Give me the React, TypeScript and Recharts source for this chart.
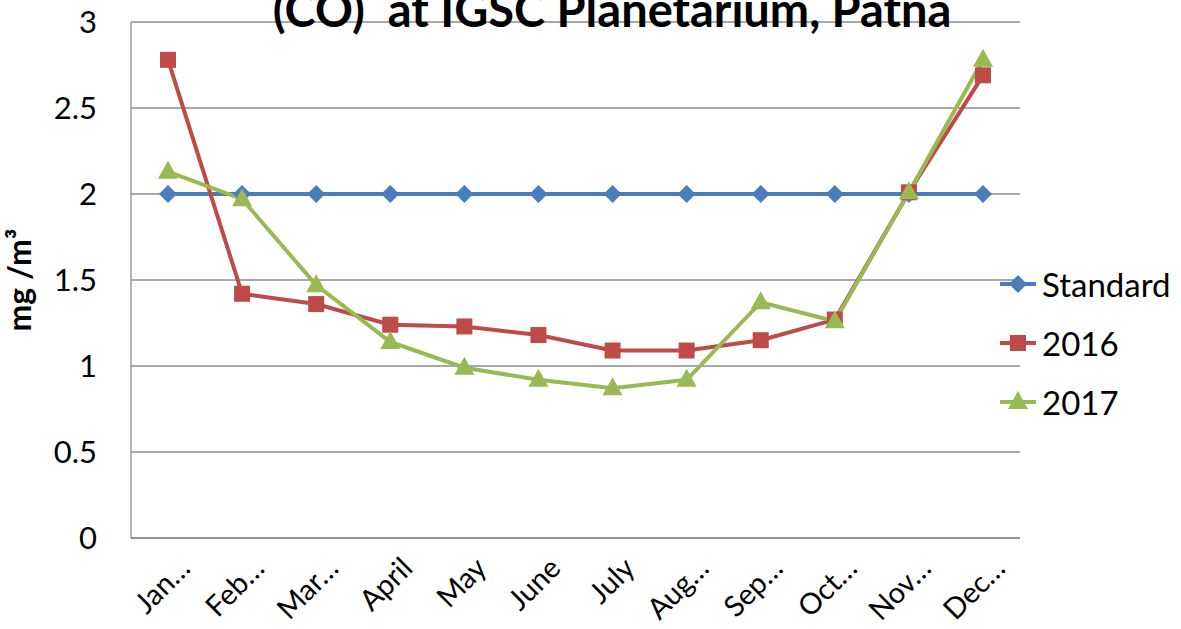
import React from "react";
import { LineChart, Line, XAxis, YAxis, CartesianGrid, Legend, Label } from "recharts";

const months = ["Jan…", "Feb…", "Mar…", "April", "May", "June", "July", "Aug…", "Sep…", "Oct…", "Nov…", "Dec…"];
const standard = [2, 2, 2, 2, 2, 2, 2, 2, 2, 2, 2, 2];
const y2016 = [2.78, 1.42, 1.36, 1.24, 1.23, 1.18, 1.09, 1.09, 1.15, 1.27, 2.01, 2.69];
const y2017 = [2.13, 1.97, 1.47, 1.14, 0.99, 0.92, 0.87, 0.92, 1.37, 1.26, 2.01, 2.78];
const yTicks = [0, 0.5, 1, 1.5, 2, 2.5, 3];

const seriesInfo = [
  { key: "standard", name: "Standard", color: "#4A7EBB", shape: "diamond" },
  { key: "y2016", name: "2016", color: "#BE4B48", shape: "square" },
  { key: "y2017", name: "2017", color: "#98B954", shape: "triangle" },
];

const data = months.map((m, i) => ({ month: m, standard: standard[i], y2016: y2016[i], y2017: y2017[i] }));

const FONT = "Lato, 'Open Sans', sans-serif";

function Marker({ cx, cy, shape, color }: { cx: number; cy: number; shape: string; color: string }) {
  if (shape === "diamond") {
    const r = 9;
    return <polygon points={`${cx},${cy - r} ${cx + r},${cy} ${cx},${cy + r} ${cx - r},${cy}`} fill={color} />;
  }
  if (shape === "square") {
    const r = 8;
    return <rect x={cx - r} y={cy - r} width={2 * r} height={2 * r} fill={color} />;
  }
  const w = 10;
  return <polygon points={`${cx},${cy - 11} ${cx + w},${cy + 7} ${cx - w},${cy + 7}`} fill={color} />;
}

const makeDot = (shape: string, color: string) => (props: any) => {
  const { cx, cy, index } = props;
  if (cx == null || cy == null) return <g key={index} />;
  return <Marker key={`${shape}-${index}`} cx={cx} cy={cy} shape={shape} color={color} />;
};

const XTick = (props: any) => {
  const { x, payload } = props;
  return (
    <text
      transform={`translate(${x + 24},${570}) rotate(-45)`}
      textAnchor="end"
      fontSize={29}
      fontFamily={FONT}
      fill="#000"
    >
      {payload.value}
    </text>
  );
};

const LegendContent = () => (
  <div style={{ fontFamily: FONT, whiteSpace: "nowrap", width: 183 }}>
    {seriesInfo.map((s) => (
      <div key={s.key} style={{ display: "flex", alignItems: "center", height: 59 }}>
        <svg width={42} height={30} style={{ display: "block" }}>
          <line x1={2} y1={15} x2={38} y2={15} stroke={s.color} strokeWidth={4} />
          <Marker cx={20} cy={15} shape={s.shape} color={s.color} />
        </svg>
        <span style={{ fontSize: 33, color: "#000", marginLeft: 2, lineHeight: "30px" }}>{s.name}</span>
      </div>
    ))}
  </div>
);

export default function App() {
  return (
    <div style={{ position: "absolute", left: 0, top: 0, width: 1181, height: 629, background: "#fff", overflow: "hidden" }}>
      <LineChart width={1181} height={629} data={data} margin={{ top: 22, right: 160, bottom: 0, left: 0 }}>
        <CartesianGrid vertical={false} stroke="#8C8C8C" strokeWidth={1.3} />
        <XAxis
          dataKey="month"
          stroke="#8C8C8C"
          strokeWidth={1.3}
          tickLine={false}
          tick={<XTick />}
          height={91}
          interval={0}
          padding={{ left: 37, right: 37 }}
        />
        <YAxis
          domain={[0, 3]}
          ticks={yTicks}
          width={131}
          stroke="#8C8C8C"
          strokeWidth={1.3}
          tickLine={false}
          tickSize={0}
          tickMargin={34}
          tick={{ fontSize: 31, fill: "#000", fontFamily: FONT }}
        >
          <Label
            value="mg /m³"
            angle={-90}
            position="insideLeft"
            offset={20}
            style={{ fontSize: 32, fontWeight: "bold", fill: "#000", fontFamily: FONT, textAnchor: "middle" }}
          />
        </YAxis>
        <Legend
          layout="vertical"
          align="right"
          verticalAlign="top"
          content={<LegendContent />}
          wrapperStyle={{ position: "absolute", left: 998, top: 254, width: 1, height: 1, overflow: "visible" }}
        />
        {seriesInfo.map((s) => (
          <Line
            key={s.key}
            dataKey={s.key}
            name={s.name}
            stroke={s.color}
            strokeWidth={4}
            dot={makeDot(s.shape, s.color)}
            activeDot={false}
            isAnimationActive={false}
          />
        ))}
      </LineChart>
      <div
        style={{
          position: "absolute",
          left: 0,
          width: 1224,
          top: -17,
          textAlign: "center",
          fontFamily: FONT,
          fontWeight: "bold",
          fontSize: 47,
          lineHeight: "52px",
          color: "#000",
          whiteSpace: "pre",
        }}
      >
        {"(CO)  at IGSC Planetarium, Patna"}
      </div>
    </div>
  );
}
